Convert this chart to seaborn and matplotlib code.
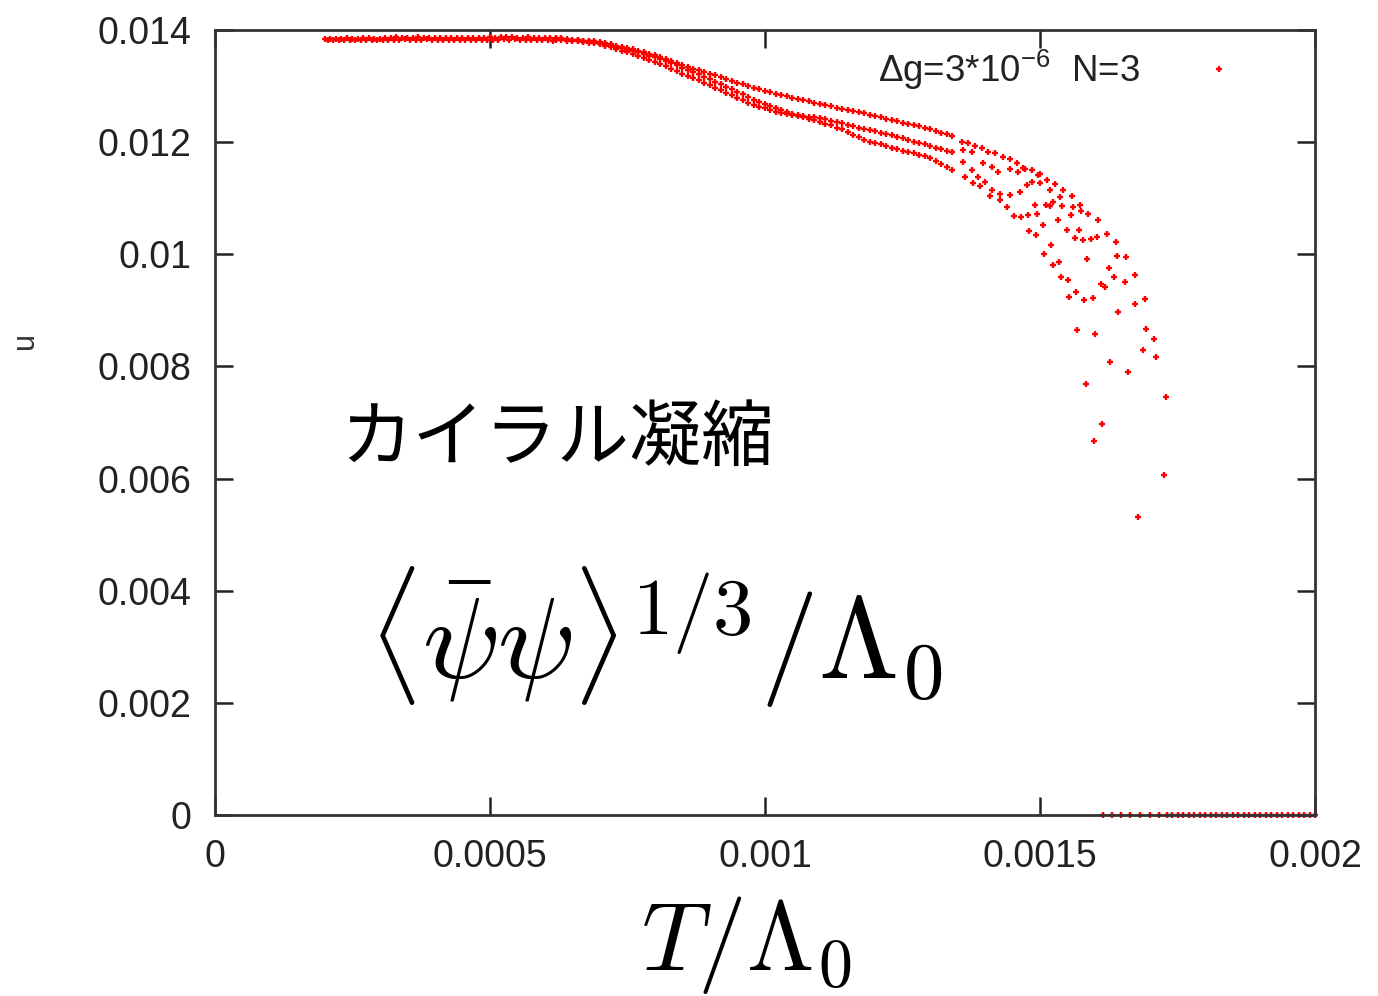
import numpy as np
import pandas as pd
import seaborn as sns
import matplotlib
matplotlib.use("Agg")
import matplotlib.pyplot as plt
from matplotlib.lines import Line2D

# ---------------- data (T in units of 1e-4, <psibar psi>^(1/3) in units of 1e-3) --------
T_flat_a = [2.0, 2.1, 2.2, 2.3, 2.4, 2.5, 2.6, 2.7, 2.8, 2.9, 3.0, 3.1, 3.2, 3.3, 3.4, 3.5,
            3.6, 3.7, 3.8, 3.9, 4.0, 4.1, 4.2, 4.3, 4.4, 4.5, 4.6, 4.7, 4.8, 4.9, 5.0, 5.1,
            5.2, 5.3, 5.4, 5.5, 5.6, 5.7, 5.8, 5.9, 6.0, 6.1]
y_flat_a = [13.84, 13.84, 13.84, 13.84, 13.85, 13.84, 13.84, 13.85, 13.85, 13.84, 13.84, 13.85,
            13.86, 13.87, 13.86, 13.85, 13.86, 13.87, 13.86, 13.85, 13.85, 13.85, 13.85, 13.86,
            13.86, 13.85, 13.85, 13.86, 13.86, 13.86, 13.87, 13.86, 13.87, 13.88, 13.87, 13.86,
            13.86, 13.87, 13.86, 13.86, 13.85, 13.85]
T_flat_b = [2.05, 2.15, 2.25, 2.35, 2.45, 2.55, 2.65, 2.75, 2.85, 2.95, 3.05, 3.15, 3.25, 3.35,
            3.45, 3.55, 3.65, 3.75, 3.85, 3.95, 4.05, 4.15, 4.25, 4.35, 4.45, 4.55, 4.65, 4.75,
            4.85, 4.95, 5.05, 5.15, 5.25, 5.35, 5.45, 5.55, 5.65, 5.75, 5.85, 5.95, 6.05, 6.15]
y_flat_b = [13.82, 13.82, 13.82, 13.82, 13.82, 13.82, 13.82, 13.82, 13.82, 13.83, 13.82, 13.83,
            13.82, 13.83, 13.84, 13.83, 13.82, 13.83, 13.84, 13.82, 13.82, 13.82, 13.82, 13.83,
            13.83, 13.82, 13.82, 13.82, 13.83, 13.83, 13.82, 13.83, 13.84, 13.83, 13.84, 13.83,
            13.83, 13.82, 13.83, 13.82, 13.82, 13.81]

T_band = [6.2, 6.3, 6.4, 6.5, 6.6, 6.7, 6.8, 6.9, 7.0, 7.1, 7.2, 7.3, 7.4, 7.5, 7.6, 7.7, 7.8,
          7.9, 8.0, 8.1, 8.2, 8.3, 8.4, 8.5, 8.6, 8.7, 8.8, 8.9, 9.0, 9.1, 9.2, 9.3, 9.4, 9.5,
          9.6, 9.7, 9.8, 9.9, 10.0, 10.1, 10.2, 10.3, 10.4, 10.5, 10.6, 10.7, 10.8, 10.9, 11.0,
          11.1, 11.2, 11.3, 11.4, 11.5, 11.6, 11.7, 11.8, 11.9, 12.0, 12.1, 12.2, 12.3, 12.4,
          12.5, 12.6, 12.7, 12.8, 12.9, 13.0, 13.1, 13.2, 13.3, 13.4]
y_branch1 = [13.84, 13.84, 13.83, 13.83, 13.82, 13.81, 13.81, 13.80, 13.79, 13.77, 13.75, 13.72,
             13.70, 13.68, 13.66, 13.63, 13.61, 13.58, 13.55, 13.51, 13.48, 13.45, 13.41, 13.37,
             13.34, 13.31, 13.28, 13.25, 13.22, 13.19, 13.16, 13.12, 13.09, 13.06, 13.03, 13.00,
             12.97, 12.94, 12.91, 12.89, 12.86, 12.84, 12.82, 12.79, 12.77, 12.75, 12.73, 12.70,
             12.68, 12.66, 12.64, 12.61, 12.59, 12.57, 12.56, 12.54, 12.52, 12.49, 12.46, 12.44,
             12.41, 12.39, 12.37, 12.34, 12.32, 12.30, 12.28, 12.25, 12.23, 12.20, 12.17, 12.14,
             12.11]
y_branch2 = [13.83, 13.82, 13.81, 13.80, 13.80, 13.79, 13.77, 13.76, 13.75, 13.72, 13.69, 13.66,
             13.63, 13.60, 13.57, 13.53, 13.50, 13.47, 13.43, 13.40, 13.36, 13.31, 13.27, 13.22,
             13.18, 13.14, 13.10, 13.06, 13.02, 12.97, 12.93, 12.88, 12.84, 12.79, 12.75, 12.70,
             12.66, 12.63, 12.60, 12.57, 12.54, 12.52, 12.51, 12.49, 12.48, 12.47, 12.45, 12.44,
             12.43, 12.41, 12.38, 12.36, 12.34, 12.31, 12.28, 12.26, 12.23, 12.21, 12.19, 12.17,
             12.15, 12.12, 12.09, 12.07, 12.04, 12.01, 11.98, 11.96, 11.93, 11.90, 11.87, 11.85,
             11.82]
y_branch3 = [13.85, 13.85, 13.84, 13.83, 13.82, 13.81, 13.80, 13.79, 13.77, 13.75, 13.73, 13.70,
             13.68, 13.65, 13.62, 13.60, 13.57, 13.54, 13.51, 13.48, 13.45, 13.41, 13.37, 13.33,
             13.29, 13.25, 13.21, 13.17, 13.13, 13.08, 13.04, 12.99, 12.95, 12.90, 12.85, 12.80,
             12.75, 12.71, 12.68, 12.64, 12.61, 12.57, 12.54, 12.50, 12.47, 12.44, 12.42, 12.39,
             12.36, 12.33, 12.30, 12.26, 12.23, 12.18, 12.13, 12.09, 12.04, 12.01, 11.98, 11.96,
             11.93, 11.90, 11.87, 11.85, 11.82, 11.80, 11.77, 11.75, 11.72, 11.66, 11.61, 11.55,
             11.50]

T_tail = [13.58, 13.69, 13.82, 13.95, 14.05, 14.18, 14.33, 14.45, 14.58, 14.73, 14.85, 15.00,
          15.13, 15.27, 15.42, 15.58,
          13.60, 13.76, 13.96, 14.13, 14.24, 14.45, 14.60, 14.69, 14.96, 15.00, 15.18, 15.36,
          13.60, 13.76, 13.87, 14.00, 14.13, 14.27, 14.45, 14.64, 14.76, 14.85,
          13.64, 13.78, 13.91, 14.09, 14.27,
          14.40, 14.53, 14.65, 14.78, 14.91, 14.95, 15.05, 14.80, 14.93, 15.11, 15.18, 15.24,
          15.40, 15.33, 15.56, 15.60, 15.73, 15.75, 15.87, 16.05, 15.49, 15.71, 15.64, 15.78,
          15.93, 16.04, 16.22, 16.38, 15.20, 15.07, 15.24, 15.35, 15.85, 16.25, 16.40, 16.56,
          15.38, 15.51, 15.65, 15.53, 15.80, 15.96, 16.11, 16.18, 16.35, 16.55, 16.73, 16.73,
          16.91, 16.42, 15.67, 16.00, 16.93, 17.07, 16.87, 17.11, 16.27, 16.60, 15.84, 17.29,
          16.13, 15.98, 17.25, 16.78]
y_tail = [12.00, 11.98, 11.93, 11.90, 11.82, 11.81, 11.74, 11.70, 11.63, 11.52, 11.50, 11.43,
          11.33, 11.25, 11.15, 11.04,
          11.86, 11.82, 11.63, 11.56, 11.47, 11.52, 11.47, 11.54, 11.41, 11.27, 11.15, 11.02,
          11.65, 11.50, 11.38, 11.29, 11.15, 11.08, 11.06, 11.11, 11.24, 11.29,
          11.38, 11.27, 11.22, 11.04, 10.97,
          10.84, 10.68, 10.66, 10.70, 10.88, 10.71, 10.52, 10.41, 10.34, 10.88, 10.86, 10.93,
          10.86, 10.62, 10.70, 10.84, 10.88, 10.77, 10.71, 10.62, 10.43, 10.43, 10.29, 10.26,
          10.28, 10.31, 10.37, 10.22, 10.17, 10.01, 9.81, 9.86, 9.92, 9.76, 9.97, 9.95,
          9.60, 9.54, 9.33, 9.24, 9.18, 9.22, 9.47, 9.42, 9.60, 9.51, 9.63, 9.11,
          9.20, 8.97, 8.65, 8.58, 8.67, 8.49, 8.29, 8.17, 8.08, 7.90, 7.69, 7.45,
          6.97, 6.67, 6.06, 5.31]

T_zero = [16.15, 16.31, 16.47, 16.64, 16.82, 17.00, 17.16, 17.31, 17.4, 17.5, 17.6, 17.7, 17.8,
          17.9, 18.0, 18.1, 18.2, 18.3, 18.4, 18.5, 18.6, 18.7, 18.8, 18.9, 19.0, 19.1, 19.2,
          19.3, 19.4, 19.5, 19.6, 19.7, 19.8, 19.9, 20.0]
y_zero = [0.0] * len(T_zero)

x_ticks = [0, 0.0005, 0.001, 0.0015, 0.002]
x_ticklabels = ["0", "0.0005", "0.001", "0.0015", "0.002"]
y_ticks = [0, 0.002, 0.004, 0.006, 0.008, 0.010, 0.012, 0.014]
y_ticklabels = ["0", "0.002", "0.004", "0.006", "0.008", "0.01", "0.012", "0.014"]

legend_label = "Δg=3*10$^{\\mathregular{-6}}$  N=3"

# ---------------- build frame ----------------
T_all = (T_flat_a + T_flat_b + T_band * 3 + T_tail + T_zero)
y_all = (y_flat_a + y_flat_b + y_branch1 + y_branch2 + y_branch3 + y_tail + y_zero)
df = pd.DataFrame({"T": np.array(T_all) * 1e-4, "psi": np.array(y_all) * 1e-3})

# ---------------- style ----------------
sns.set_style("white")
plt.rcParams["font.family"] = ["Liberation Sans", "DejaVu Sans"]

fig = plt.figure(figsize=(13.78, 9.96), dpi=100)
ax = fig.add_axes([0.156, 0.1817, 0.7983, 0.7882])

sns.scatterplot(data=df, x="T", y="psi", marker="+", color="red", s=22,
                linewidth=1.7, ax=ax, legend=False)
for c in ax.collections:
    c.set_clip_on(False)

ax.set_xlim(0, 0.002)
ax.set_ylim(0, 0.014)
ax.set_xticks(x_ticks)
ax.set_xticklabels(x_ticklabels)
ax.set_yticks(y_ticks)
ax.set_yticklabels(y_ticklabels)
ax.tick_params(direction="in", length=13, width=1.8, top=True, right=True,
               bottom=True, left=True,
               labelsize=27, pad=17, colors="#222222", labelcolor="#222222")
for sp in ax.spines.values():
    sp.set_linewidth(2)
    sp.set_color("#333333")
    sp.set_visible(True)

ax.set_ylabel("")
ax.set_xlabel(r"$T/\Lambda_0$", fontsize=70, math_fontfamily="cm", color="black")
ax.xaxis.set_label_coords(0.483, -0.10)

handle = Line2D([], [], marker="+", color="red", linestyle="none", markersize=5,
                markeredgewidth=1.7)
leg = ax.legend([handle], [legend_label], loc="upper right", frameon=False,
                markerfirst=False, fontsize=26.5, bbox_to_anchor=(0.946, 0.978),
                borderaxespad=0, borderpad=0, handletextpad=1.15, handlelength=2)
for t in leg.get_texts():
    t.set_color("#222222")

ax.text(0.000228, 0.0067, "カイラル凝縮", fontsize=52,
        family=["Noto Sans CJK JP", "DejaVu Sans"], va="center", ha="left", color="black")
ax.text(0.000278, 0.00318, r"$\langle\bar{\psi}\psi\rangle^{1/3}/\Lambda_0$", fontsize=83,
        math_fontfamily="cm", va="center", ha="left", color="black")

fig.text(25 / 1378, 1 - 340 / 996, "u", rotation=90, fontsize=22, color="#333333",
         ha="center", va="center")

fig.savefig("out.png", dpi=100, facecolor="white")
